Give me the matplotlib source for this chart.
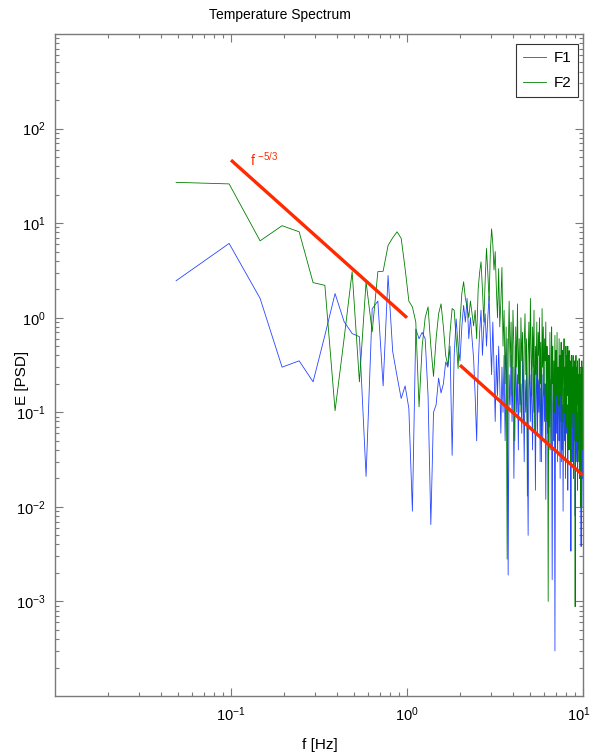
import matplotlib
matplotlib.use("Agg")
import matplotlib.pyplot as plt
import matplotlib.transforms as mtransforms
from matplotlib.ticker import LogLocator, NullFormatter
import numpy as np

plt.rcParams['font.family'] = ['Liberation Sans', 'DejaVu Sans']
plt.rcParams['mathtext.default'] = 'regular'

# spectral resolution of both records (Nyquist 10 Hz, 205 bins)
df = 10.0 / 205

psd_f1 = [
    2.46, 6.1, 1.6, 0.30, 0.35, 0.21, 0.65, 1.8, 0.91, 0.68,
    0.63, 0.021, 1.24, 1.5, 0.19, 2.8, 0.44, 0.24, 0.14, 0.19,
    0.11, 0.009, 0.76, 0.6, 0.7, 0.6, 0.15, 0.0065, 0.1, 0.12,
    0.23, 0.16, 0.2, 0.34, 0.3, 0.5, 0.035, 0.4, 0.97, 0.5,
    0.35, 0.8, 1.35, 0.9, 1.6, 0.6, 1.0, 0.6, 0.37, 0.15,
    0.05, 0.3, 0.7, 1.2, 0.4, 0.8, 1.1, 0.5, 1.0, 1.7,
    0.6, 0.25, 0.9, 0.3, 0.08, 0.4, 0.15, 0.5, 0.2, 0.06,
    0.3, 0.1, 0.4, 0.05, 0.2, 0.6, 0.0019, 0.25, 0.12, 0.4,
    0.08, 0.3, 0.02, 0.15, 0.5, 0.1, 0.25, 0.04, 0.35, 0.12,
    0.2, 0.06, 0.4, 0.15, 0.03, 0.22, 0.1, 0.3, 0.05, 0.005,
    0.18, 0.3, 0.08, 0.25, 0.12, 0.04, 0.35, 0.1, 0.2, 0.015,
    0.15, 0.3, 0.06, 0.22, 0.1, 0.4, 0.03, 0.18, 0.09, 0.25,
    0.05, 0.15, 0.3, 0.08, 0.2, 0.012, 0.14, 0.25, 0.06, 0.18,
    0.1, 0.3, 0.04, 0.15, 0.22, 0.07, 0.0017, 0.12, 0.2, 0.05,
    0.15, 0.0003, 0.1, 0.25, 0.06, 0.18, 0.03, 0.12, 0.2, 0.05,
    0.1, 0.02, 0.15, 0.08, 0.22, 0.04, 0.12, 0.009, 0.1, 0.18,
    0.05, 0.14, 0.03, 0.1, 0.2, 0.06, 0.12, 0.015, 0.08, 0.16,
    0.04, 0.1, 0.06, 0.15, 0.0034, 0.09, 0.13, 0.03, 0.07, 0.12,
    0.02, 0.1, 0.05, 0.14, 0.008, 0.08, 0.11, 0.03, 0.06, 0.1,
    0.015, 0.07, 0.12, 0.04, 0.09, 0.02, 0.06, 0.1, 0.03, 0.0038,
    0.05, 0.08, 0.02, 0.06, 0.01,
]

psd_f2 = [
    27, 26, 6.5, 9.4, 8.1, 2.35, 2.2, 0.104, 0.6, 3.07,
    0.21, 2.4, 0.71, 3.07, 3.1, 5.8, 7.0, 8.1, 6.9, 3.3,
    1.5, 1.3, 0.9, 0.114, 0.5, 1.0, 1.3, 0.5, 0.24, 0.6,
    1.1, 1.4, 0.8, 0.4, 0.31, 0.7, 1.25, 1.2, 0.6, 0.29,
    0.9, 1.8, 2.4, 1.6, 1.3, 1.0, 1.5, 1.1, 0.82, 1.2,
    0.6, 2.0, 3.0, 3.9, 2.0, 0.9, 2.5, 5.4, 3.0, 1.5,
    5.0, 8.7, 6.0, 3.2, 5.0, 2.0, 1.0, 3.3, 0.8, 1.5,
    3.4, 0.5, 1.2, 0.2, 0.8, 0.0028, 0.4, 1.5, 0.3, 0.9,
    0.15, 1.2, 0.5, 0.05, 0.8, 0.3, 1.4, 0.2, 0.6, 0.1,
    1.0, 0.35, 0.7, 0.08, 0.5, 1.1, 0.25, 0.6, 0.013, 0.4,
    0.9, 0.2, 1.6, 0.5, 0.15, 0.8, 0.3, 1.2, 0.06, 0.5,
    0.25, 0.9, 0.1, 0.7, 0.4, 1.0, 0.2, 0.55, 0.03, 1.25,
    0.3, 0.8, 0.15, 0.6, 0.35, 0.9, 0.08, 0.5, 0.25, 0.001,
    0.4, 0.07, 0.7, 0.15, 0.04, 0.8, 0.2, 0.5, 0.05, 0.35,
    0.1, 0.65, 0.04, 0.45, 0.15, 0.7, 0.06, 0.3, 0.12, 0.6,
    0.05, 0.4, 0.15, 0.55, 0.03, 0.3, 0.45, 0.08, 0.35, 0.6,
    0.1, 0.3, 0.02, 0.5, 0.07, 0.4, 0.15, 0.5, 0.04, 0.3,
    0.45, 0.06, 0.35, 0.03, 0.25, 0.4, 0.07, 0.3, 0.1, 0.4,
    0.04, 0.3, 0.1, 0.35, 0.00088, 0.2, 0.4, 0.05, 0.3, 0.12,
    0.35, 0.03, 0.25, 0.08, 0.37, 0.05, 0.3, 0.12, 0.01, 0.25,
    0.06, 0.35, 0.04, 0.3, 0.1,
]

# -5/3 reference slopes, E = f^(-5/3)
ref_low = [0.1, 1.0]
ref_high = [2.0, 10.0]

f1 = df * np.arange(1, len(psd_f1) + 1)
f2 = df * np.arange(1, len(psd_f2) + 1)

fig = plt.figure(figsize=(5.92, 7.56), dpi=100)
ax = fig.add_axes([55 / 592, 1 - 696 / 756, 528 / 592, 662 / 756])

ax.loglog(f1, psd_f1, color='#2846ff', lw=0.6, label='F1')
ax.loglog(f2, psd_f2, color='#008000', lw=0.6, label='F2')

red = '#ff2a00'
for seg in (ref_low, ref_high):
    fs = np.array(seg)
    ax.loglog(fs, fs ** (-5 / 3), color=red, lw=2.4, solid_capstyle='butt')
ax.text(0.128, 38, r'f $^{-5/3}$', color=red, fontsize=10, va='bottom', ha='left')

ax.set_xlim(1e-2, 10)
ax.set_ylim(1e-4, 1e3)

ax.set_xticks([0.1, 1, 10])
ax.set_yticks([1e-3, 1e-2, 1e-1, 1, 10, 100])
ax.xaxis.set_minor_locator(LogLocator(base=10, subs=np.arange(2, 10), numticks=20))
ax.yaxis.set_minor_locator(LogLocator(base=10, subs=np.arange(2, 10), numticks=20))
ax.xaxis.set_minor_formatter(NullFormatter())
ax.yaxis.set_minor_formatter(NullFormatter())

axis_grey = '#7a7a7a'
for sp in ax.spines.values():
    sp.set_color(axis_grey)
    sp.set_linewidth(1.0)
ax.tick_params(which='both', direction='in', top=True, right=True,
               color=axis_grey, labelsize=10.5, labelcolor='black')
ax.tick_params(which='major', length=6, width=0.8, pad=7)
ax.tick_params(which='minor', length=3, width=0.8)

# keep the last x label inside the canvas
last = ax.get_xticklabels()[-1]
last.set_transform(last.get_transform() +
                   mtransforms.ScaledTranslation(-4 / 100, 0, fig.dpi_scale_trans))

leg = ax.legend(loc='upper right', bbox_to_anchor=((578 - 55) / 528, (696 - 44) / 662),
                borderaxespad=0, fontsize=11, frameon=True, fancybox=False,
                handlelength=1.5, handletextpad=0.5, borderpad=0.45,
                labelspacing=0.75)
leg.get_frame().set_edgecolor('black')
leg.get_frame().set_linewidth(0.8)

fig.text(280 / 592, 1 - 15 / 756, 'Temperature Spectrum', ha='center', va='center', fontsize=10)
fig.text(22 / 592, 1 - 378 / 756, 'E [PSD]', rotation=90, ha='center', va='center', fontsize=11)
fig.text(320 / 592, 1 - 745 / 756, 'f [Hz]', ha='center', va='center', fontsize=11)

fig.savefig('out.png', dpi=100)
